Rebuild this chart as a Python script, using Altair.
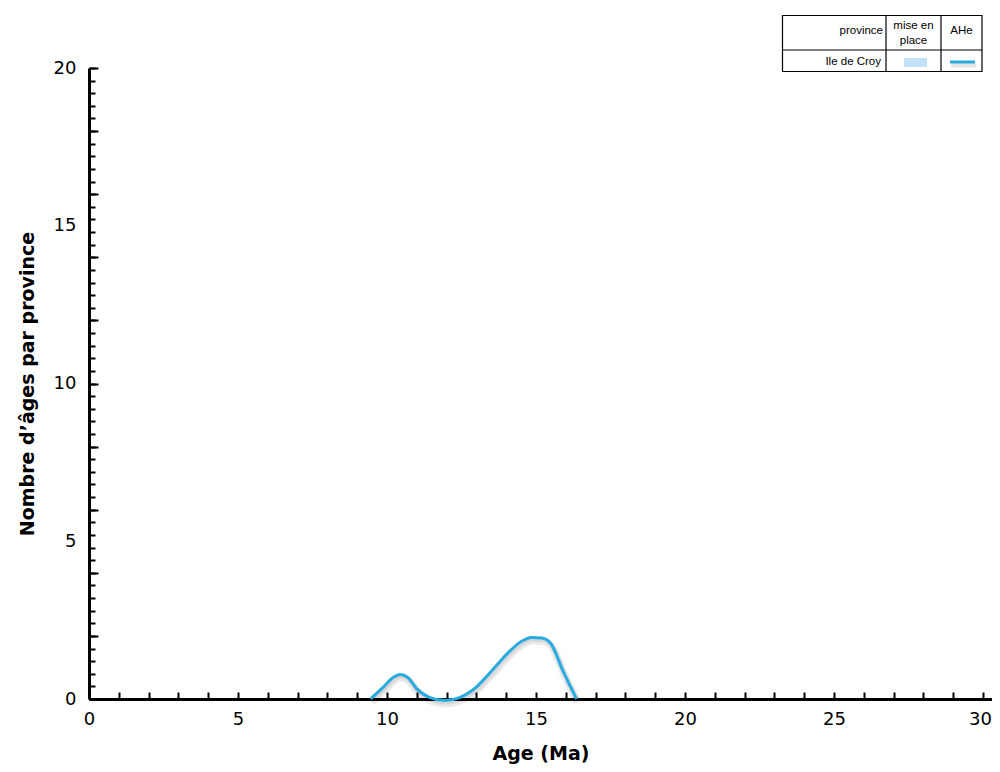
import altair as alt
import pandas as pd

# ---- data ----
age = [9.45, 9.9, 10.2, 10.45, 10.7, 11.0, 11.4, 11.95, 12.45, 12.9, 13.5, 14.1, 14.5, 14.85, 15.2, 15.5, 15.9, 16.36]
count = [0.0, 0.4, 0.68, 0.78, 0.68, 0.32, 0.06, -0.05, 0.05, 0.3, 0.88, 1.5, 1.82, 1.95, 1.93, 1.75, 0.9, 0.0]

x_label_ticks = [0, 5, 10, 15, 20, 25, 30]
x_minor_ticks = list(range(1, 31))
y_label_ticks = [0, 5, 10, 15, 20]
y_minor_ticks = [round(0.4 * k, 1) for k in range(51)]
y_mid_ticks = list(range(0, 21, 2))

legend_headers = ["province", "mise en", "place", "AHe"]
provinces = ["Ile de Croy"]

AXFONT = "DejaVu Sans"
FONT = "Liberation Sans"
BLUE = "#29abe2"
LIGHT = "#c3e1f6"

df = pd.DataFrame({"age": age, "count": count})
xs = alt.Scale(domain=[0, 30.3], nice=False, zero=False)
ys = alt.Scale(domain=[0, 20], nice=False)

# layer carrying the labelled axes (drawn as the curve's soft shadow)
shadow = alt.Chart(df).mark_line(
    interpolate="monotone", color="black", opacity=0.08, strokeWidth=8, xOffset=1, yOffset=3
).encode(
    x=alt.X("age:Q", scale=xs, axis=alt.Axis(
        values=x_label_ticks, tickSize=0, labelPadding=11, labelFontSize=18, labelFont=AXFONT,
        labelColor="black", labelFlush=False, domainColor="black", domainWidth=3,
        labelOffset={"condition": {"test": "datum.value >= 30", "value": -3}, "value": 0},
        title="Age (Ma)", titleFontSize=19, titleFont=AXFONT, titleFontWeight="bold",
        titleColor="black", titlePadding=16, grid=False, orient="bottom")),
    y=alt.Y("count:Q", scale=ys, axis=alt.Axis(
        values=y_label_ticks, tickSize=0, labelPadding=13, labelFontSize=18, labelFont=AXFONT,
        labelColor="black", labelFlush=False, domainColor="black", domainWidth=3,
        title="Nombre d’âges par province", titleFontSize=19, titleFont=AXFONT,
        titleFontWeight="bold", titleColor="black", titlePadding=16, grid=False, orient="left")),
)
shadow2 = alt.Chart(df).mark_line(
    interpolate="monotone", color="black", opacity=0.08, strokeWidth=4.5, xOffset=1, yOffset=2
).encode(
    x=alt.X("age:Q", scale=xs, axis=None),
    y=alt.Y("count:Q", scale=ys, axis=None),
)

curve = alt.Chart(df).mark_line(interpolate="monotone", color=BLUE, strokeWidth=3).encode(
    x=alt.X("age:Q", scale=xs, axis=alt.Axis(
        values=x_minor_ticks, tickSize={"expr": "-7"}, tickWidth=2, tickColor="black",
        labels=False, domain=False, title=None, grid=False, orient="bottom")),
    y=alt.Y("count:Q", scale=ys, axis=alt.Axis(
        values=y_minor_ticks, tickSize={"expr": "-6"}, tickWidth=2, tickColor="black",
        labels=False, domain=False, title=None, grid=False, orient="left")),
)

mid = alt.Chart(df).mark_line(opacity=0).encode(
    x=alt.X("age:Q", scale=xs, axis=None),
    y=alt.Y("count:Q", scale=ys, axis=alt.Axis(
        values=y_mid_ticks, tickSize={"expr": "-9"}, tickWidth=2, tickColor="black",
        labels=False, domain=False, title=None, grid=False, orient="left")),
)

# ---- legend table (top right) ----
one = pd.DataFrame({"k": [0]})
L, R, T, B = 693.5, 893, -52.5, 3.5
C1, C2, HY = 797, 852, -18
box = alt.Chart(one).mark_rect(fill="white", stroke="black", strokeWidth=1.2).encode(
    x=alt.value(L), x2=alt.value(R), y=alt.value(T), y2=alt.value(B))
v1 = alt.Chart(one).mark_rule(color="black", strokeWidth=1.2).encode(
    x=alt.value(C1), y=alt.value(T), y2=alt.value(B))
v2 = alt.Chart(one).mark_rule(color="black", strokeWidth=1.2).encode(
    x=alt.value(C2), y=alt.value(T), y2=alt.value(B))
hline = alt.Chart(one).mark_rule(color="black", strokeWidth=1.2).encode(
    x=alt.value(L), x2=alt.value(R), y=alt.value(HY))

def txt(s, x, y, align):
    return alt.Chart(one).mark_text(
        text=s, align=align, baseline="middle", fontSize=11.5, font=FONT, color="black"
    ).encode(x=alt.value(x), y=alt.value(y))

t_prov = txt(legend_headers[0], C1 - 3, -37, "right")
t_mise = txt(legend_headers[1], (C1 + C2) / 2, -42, "center")
t_place = txt(legend_headers[2], (C1 + C2) / 2, -27, "center")
t_ahe = txt(legend_headers[3], (C2 + R) / 2, -37, "center")
t_ile = txt(provinces[0], C1 - 5, -6, "right")

swatch = alt.Chart(one).mark_rect(color=LIGHT).encode(
    x=alt.value(815), x2=alt.value(838), y=alt.value(-10), y2=alt.value(-1))
sample_sh = alt.Chart(one).mark_rule(color="black", opacity=0.10, strokeWidth=5).encode(
    x=alt.value(862), x2=alt.value(887), y=alt.value(-3))
sample = alt.Chart(one).mark_rule(color=BLUE, strokeWidth=3).encode(
    x=alt.value(861), x2=alt.value(886), y=alt.value(-6))

chart = alt.layer(
    shadow, shadow2, curve, mid,
    box, v1, v2, hline, t_prov, t_mise, t_place, t_ahe, t_ile, swatch, sample_sh, sample
).resolve_axis(x="independent", y="independent").properties(
    width=903, height=631,
    autosize=alt.AutoSizeParams(type="none"),
    padding={"left": 81, "top": 60, "right": 0, "bottom": 65},
).configure_view(stroke=None)

chart.save("out.html", embed_options={"renderer": "svg", "actions": False})
